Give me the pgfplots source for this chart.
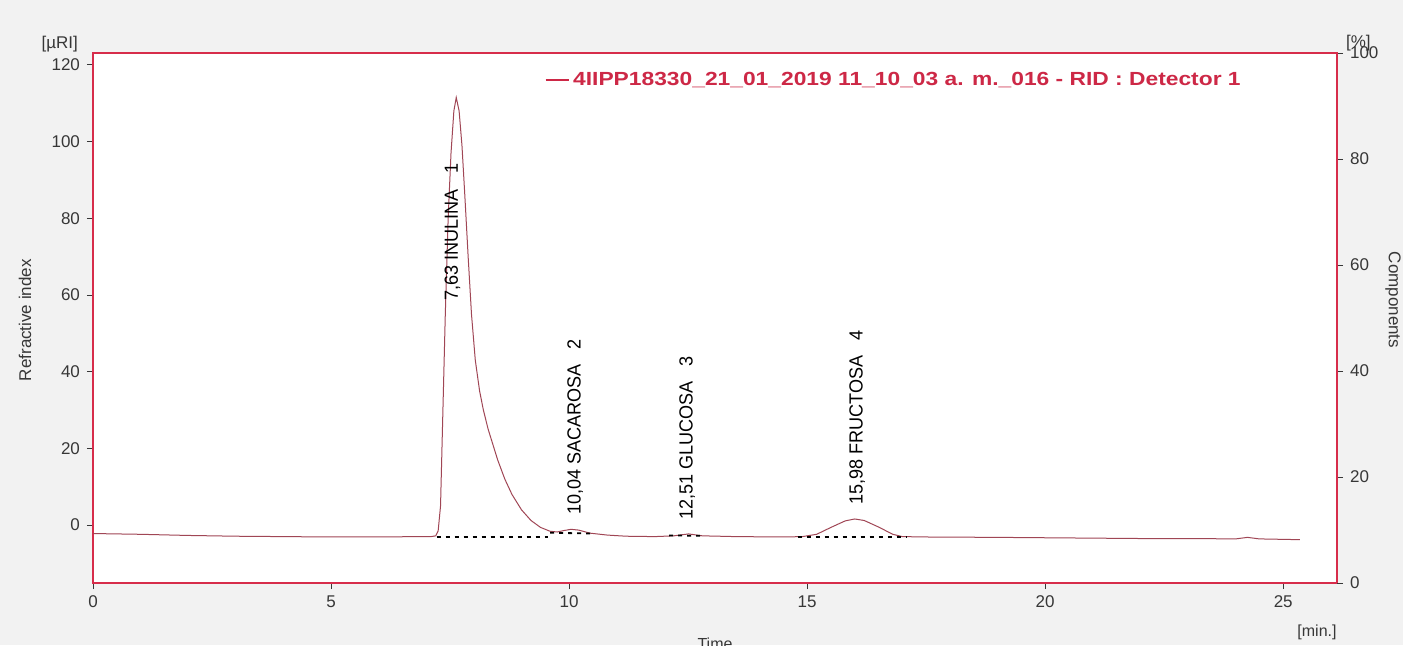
\documentclass[border=0pt]{standalone}
\usepackage{pgfplots}
\pgfplotsset{compat=1.18}
\usepackage{fontspec}
\setmainfont{Liberation Sans}
\newfontfamily\narrowfont[FakeStretch=0.95]{Liberation Sans}
\newfontfamily\widefont[FakeStretch=1.2]{Liberation Sans}
\definecolor{framec}{RGB}{215,45,75}
\definecolor{curvec}{RGB}{160,70,85}
\definecolor{legred}{RGB}{205,40,70}
\definecolor{bgc}{RGB}{242,242,242}
\definecolor{tickc}{RGB}{55,55,55}
\pgfplotstableread{
t v
0 -2.2
1 -2.4
2 -2.7
3 -2.9
4 -3.0
5 -3.1
6 -3.1
6.8 -3.0
7.1 -3.0
7.2 -2.8
7.25 -1.5
7.3 5
7.35 30
7.40 55
7.46 80
7.52 97
7.58 108
7.63 111.5
7.69 108
7.75 99
7.81 86
7.88 70
7.95 55
8.03 43
8.12 35
8.2 30
8.3 25
8.4 21
8.5 17
8.65 12
8.8 8
9.0 4
9.2 1.2
9.4 -0.6
9.6 -1.6
9.75 -1.8
9.9 -1.4
10.04 -1.1
10.2 -1.3
10.44 -2.1
10.8 -2.6
11.2 -2.9
11.8 -3.0
12.2 -2.8
12.51 -2.3
12.8 -2.8
13.5 -3.0
14.5 -3.1
14.9 -3.0
15.2 -2.4
15.5 -0.6
15.8 1.1
16.0 1.6
16.2 1.2
16.5 -0.5
16.8 -2.4
17.0 -3.0
17.5 -3.1
19 -3.2
20 -3.3
21 -3.4
22 -3.5
23 -3.5
24 -3.6
24.25 -3.2
24.5 -3.6
25.35 -3.8
}\chrom
\begin{document}
\begin{tikzpicture}[x=1pt,y=1pt]
\fill[bgc] (-46.5,-31) rectangle (655,291.5);
\begin{axis}[at={(0,0)}, anchor=south west, width=622pt, height=265pt, scale only axis,
  xmin=0, xmax=26.13, ymin=-15.1, ymax=123.1,
  axis line style={framec, line width=1pt},
  axis background/.style={fill=white},
  xtick={0,5,...,25}, ytick={0,20,...,120},
  xtick pos=bottom, ytick pos=left,
  tick align=outside, major tick length=3pt,
  tick style={tickc, line width=0.4pt},
  ticklabel style={font=\fontsize{8.5}{10}\selectfont, text=tickc},
  /pgf/number format/assume math mode=true,
  clip=false,
  legend style={at={(rel axis cs:0.363,0.949)}, anchor=west, draw=none, fill=none,
    font=\widefont\bfseries\fontsize{9.5}{11}\selectfont, text=legred, inner sep=0pt},
  legend cell align=left,
  legend image code/.code={\draw[#1] (0pt,0pt) -- (11.5pt,0pt);},
]
\addplot[curvec, line width=0.5pt, forget plot] table[x=t,y=v] {\chrom};
% integration baselines
\addplot[black, line width=0.9pt, dash pattern=on 2pt off 2.5pt, forget plot] coordinates {(7.22,-3.1) (9.55,-3.1)};
\addplot[black, line width=0.9pt, dash pattern=on 2pt off 2.5pt, forget plot] coordinates {(9.6,-2.0) (10.5,-2.2)};
\addplot[black, line width=0.9pt, dash pattern=on 2pt off 2.5pt, forget plot] coordinates {(12.1,-2.7) (12.85,-2.8)};
\addplot[black, line width=0.9pt, dash pattern=on 2pt off 2.5pt, forget plot] coordinates {(14.8,-3.2) (17.1,-3.2)};
\addlegendimage{legred, line width=0.6pt}
\addlegendentry{4IIPP18330\_21\_01\_2019 11\_10\_03 a. m.\_016 - RID : Detector 1}
% peak labels
\begin{scope}[every node/.style={font=\narrowfont\fontsize{9.5}{11}\selectfont, text=black, rotate=90, anchor=west, inner sep=0pt}]
\node at (axis cs:7.55,58.5) {7,63 INULINA\ \ \ 1};
\node at (axis cs:10.13,2.6) {10,04 SACAROSA\ \ \ 2};
\node at (axis cs:12.48,1.3) {12,51 GLUCOSA\ \ \ 3};
\node at (axis cs:16.05,5.2) {15,98 FRUCTOSA\ \ \ 4};
\end{scope}
\node[rotate=90, font=\fontsize{8.5}{10}\selectfont, text=tickc] at ([xshift=-34pt]rel axis cs:0,0.496) {Refractive index};
\node[anchor=east, font=\fontsize{8.5}{10}\selectfont, text=tickc] at ([xshift=-4pt,yshift=4.5pt]rel axis cs:0,1) {[µRI]};
\node[anchor=west, font=\fontsize{8.5}{10}\selectfont, text=tickc] at ([xshift=1pt,yshift=5pt]rel axis cs:1,1) {[\%]};
\node[font=\fontsize{8}{10}\selectfont, text=tickc] at ([xshift=-10pt,yshift=-24.5pt]rel axis cs:1,0) {[min.]};
\node[anchor=north, font=\fontsize{8}{10}\selectfont, text=tickc] at ([yshift=-24pt]rel axis cs:0.5,0) {Time};
\end{axis}
\begin{axis}[at={(0,0)}, anchor=south west, width=622pt, height=265pt, scale only axis,
  xmin=0, xmax=26.13, ymin=0, ymax=100,
  axis x line=none, axis y line*=right,
  axis line style={framec, line width=1pt, -},
  ytick={0,20,...,100},
  tick align=outside, major tick length=3pt,
  tick style={tickc, line width=0.4pt},
  ticklabel style={font=\fontsize{8.5}{10}\selectfont, text=tickc},
  /pgf/number format/assume math mode=true,
  clip=false,
]
\addplot[draw=none, forget plot] coordinates {(0,0)};
\node[rotate=-90, font=\fontsize{8.5}{10}\selectfont, text=tickc] at ([xshift=28pt]rel axis cs:1,0.534) {Components};
\end{axis}
\pgfresetboundingbox
\path (-46.5,-31) rectangle (655,291.5);
\end{tikzpicture}
\end{document}
